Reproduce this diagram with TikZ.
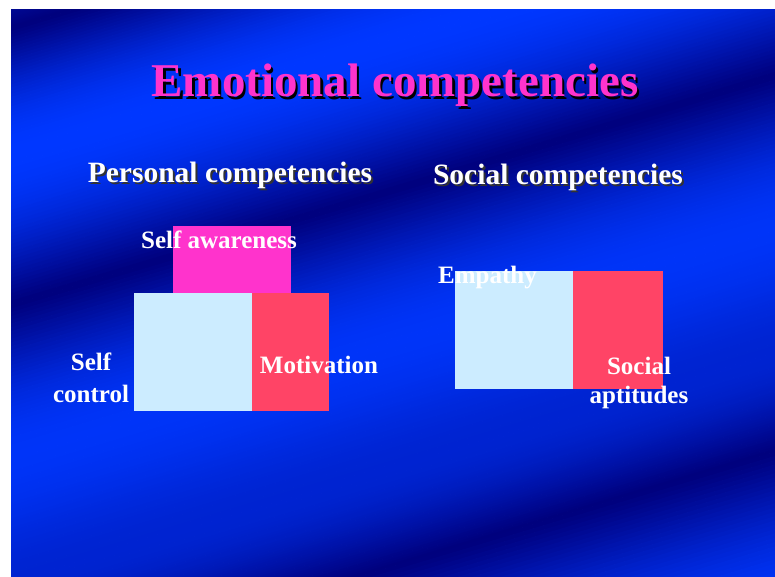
\documentclass[tikz,border=0pt]{standalone}
\usepackage{fontspec}
\setmainfont{Liberation Serif}
\usepackage{xcolor}
\usepackage{tikz}

\definecolor{slidedark}{RGB}{0,0,125}
\definecolor{slidebright}{RGB}{0,55,255}
\definecolor{titlepink}{RGB}{255,51,204}
\definecolor{paleblue}{RGB}{204,236,255}
\definecolor{rosered}{RGB}{255,68,102}

\begin{document}
\begin{tikzpicture}[
    x=1pt, y=-1pt,
    % Text styles - slide fonts
    titletext/.style={font=\fontsize{47}{50}\selectfont\bfseries, anchor=base, inner sep=0pt},
    headtext/.style={font=\fontsize{29.5}{32}\selectfont\bfseries, anchor=base, inner sep=0pt},
    labeltext/.style={font=\fontsize{25}{32}\selectfont\bfseries, text=white, align=center, anchor=base, inner sep=0pt},
    % Coloured blocks
    block/.style={draw=none, inner sep=0pt, outer sep=0pt, anchor=north west}
]
\useasboundingbox (0,0) rectangle (775,577);
\fill[white] (0,0) rectangle (775,577);

% ========== BACKGROUND: diagonal bands ==========
% segments along the slant axis: start/end/brightness at start/brightness at end
\begin{scope}
    \clip (11,10) rectangle (775,577);
    \foreach \a/\b/\lo/\hi in {-20/30/15/0, 30/150/0/100, 150/295/100/0, 295/440/0/90, 440/560/90/45, 560/655/45/0, 655/820/0/100}{
        \foreach \t in {0,0.025,...,0.98}{
            \pgfmathsetmacro{\lin}{\lo+(\hi-\lo)*(1-cos(180*(\t+0.0125)))/2}
            \pgfmathsetmacro{\mix}{100*pow((\lin+0.01)/100.01,0.55)}
            \pgfmathsetmacro{\pa}{\a+\t*(\b-\a)}
            \pgfmathsetmacro{\pb}{\pa+0.025*(\b-\a)+0.6}
            \colorlet{bandcol}{slidebright!\mix!slidedark}
            \fill[bandcol] (0,{\pa/0.958}) -- (800,{(\pa-229.6)/0.958}) -- (800,{(\pb-229.6)/0.958}) -- (0,{\pb/0.958}) -- cycle;
        }
    }
\end{scope}

% ========== TITLE ==========
\node[titletext, text=black] (titleshadow) at (397.5,99.5) {Emotional competencies};
\node[titletext, text=titlepink] (title) at (395,97) {Emotional competencies};

% ========== HEADINGS ==========
\node[headtext, text=black!80] (personalshadow) at (232,185) {Personal competencies};
\node[headtext, text=white] (personal) at (230,183) {Personal competencies};
\node[headtext, text=black!80] (socialshadow) at (560,187) {Social competencies};
\node[headtext, text=white] (social) at (558,185) {Social competencies};

% ========== PERSONAL BLOCKS ==========
\node[block, fill=titlepink, minimum width=118, minimum height=67] (awarebox) at (173,226) {};
\node[block, fill=paleblue, minimum width=118, minimum height=118] (controlbox) at (134,293) {};
\node[block, fill=rosered, minimum width=77, minimum height=118] (motivbox) at (252,293) {};

% ========== SOCIAL BLOCKS ==========
\node[block, fill=paleblue, minimum width=118, minimum height=118] (empathybox) at (455,271) {};
\node[block, fill=rosered, minimum width=90, minimum height=118] (aptitbox) at (573,271) {};

% ========== LABELS ==========
\node[labeltext] (aware) at (219,248) {Self awareness};
\node[labeltext] (motiv) at (319,373) {Motivation};
\node[labeltext] (selfcontrol) at (91,402) {Self\\control};
\node[labeltext] (empathy) at (487.5,283) {Empathy};
\node[labeltext, font=\fontsize{25}{29}\selectfont\bfseries] (aptitudes) at (639,403) {Social\\aptitudes};

\end{tikzpicture}
\end{document}
